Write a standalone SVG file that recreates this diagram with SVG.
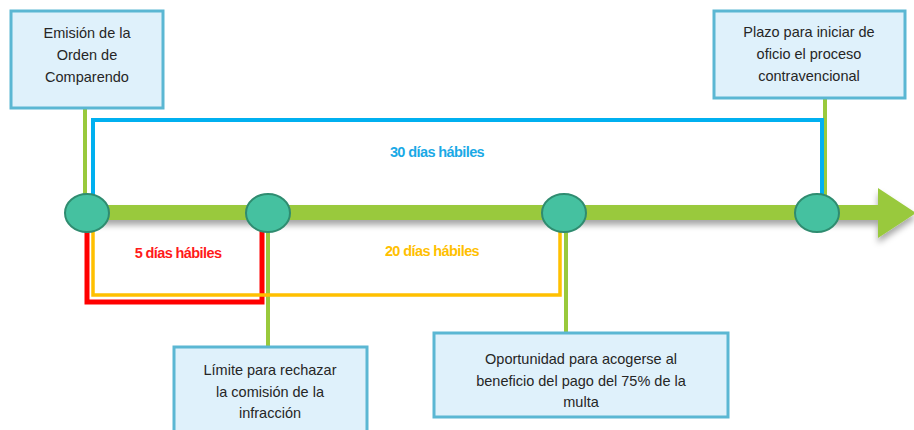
<svg xmlns="http://www.w3.org/2000/svg" width="914" height="430" viewBox="0 0 914 430">
<style>
.box{fill:#dff1fb;stroke:#5bb7d3;stroke-width:3}
.t{font-family:"Liberation Sans",Arial,sans-serif;font-size:14.5px;fill:#262626;text-anchor:middle}
.lbl{font-family:"Liberation Sans",Arial,sans-serif;font-size:14.5px;font-weight:bold;text-anchor:middle;letter-spacing:-0.6px}
.node{fill:#45c1a0;stroke:#2f8c70;stroke-width:2}
.gl{stroke:#99c93c;stroke-width:4;fill:none}
</style>
<defs>
<filter id="sh" x="-5%" y="-50%" width="110%" height="220%">
<feDropShadow dx="0" dy="5" stdDeviation="3" flood-color="#000" flood-opacity="0.35"/>
</filter>
</defs>
<g id="connectors">
<line class="gl" x1="85" y1="108" x2="85" y2="200"/>
<line class="gl" x1="268" y1="230" x2="268" y2="347"/>
<line class="gl" x1="566" y1="230" x2="566" y2="333"/>
<line class="gl" x1="825" y1="98" x2="825" y2="200"/>
<path d="M93,196 V120 H822 V196" fill="none" stroke="#00b0f0" stroke-width="4"/>
<path d="M87,230 V302 H262 V230" fill="none" stroke="#ff0000" stroke-width="5"/>
<path d="M93,230 V295 H560 V230" fill="none" stroke="#ffc000" stroke-width="3.5"/>
<g filter="url(#sh)">
<path d="M88,205 H878 V188 L916,213 L878,238 V220 H88 Z" fill="#99c93c"/>
</g>
</g>
<g id="n1"><ellipse class="node" cx="87" cy="213" rx="22" ry="19"/></g>
<g id="n2"><ellipse class="node" cx="268" cy="213" rx="22" ry="19"/></g>
<g id="n3"><ellipse class="node" cx="564" cy="213" rx="22" ry="19"/></g>
<g id="n4"><ellipse class="node" cx="817" cy="213" rx="22" ry="19"/></g>
<g id="box1">
<rect class="box" x="11" y="11" width="152" height="97"/>
<text class="t" x="87" y="38">Emisión de la</text>
<text class="t" x="87" y="60">Orden de</text>
<text class="t" x="87" y="82">Comparendo</text>
</g>
<g id="box4">
<rect class="box" x="714" y="11" width="191" height="87"/>
<text class="t" x="809" y="37">Plazo para iniciar de</text>
<text class="t" x="809" y="59">oficio el proceso</text>
<text class="t" x="809" y="81">contravencional</text>
</g>
<g id="box2">
<rect class="box" x="174" y="347" width="193" height="90"/>
<text class="t" x="270" y="375">Límite para rechazar</text>
<text class="t" x="270" y="397">la comisión de la</text>
<text class="t" x="270" y="418">infracción</text>
</g>
<g id="box3">
<rect class="box" x="434" y="333" width="294" height="84"/>
<text class="t" x="581" y="364">Oportunidad para acogerse al</text>
<text class="t" x="581" y="386">beneficio del pago del 75% de la</text>
<text class="t" x="581" y="407">multa</text>
</g>
<g id="labels">
<text class="lbl" x="437" y="157" fill="#1aa9e6">30 días hábiles</text>
<text class="lbl" x="178" y="258" fill="#ff1a1a">5 días hábiles</text>
<text class="lbl" x="432" y="256" fill="#ffc000">20 días hábiles</text>
</g>
</svg>
